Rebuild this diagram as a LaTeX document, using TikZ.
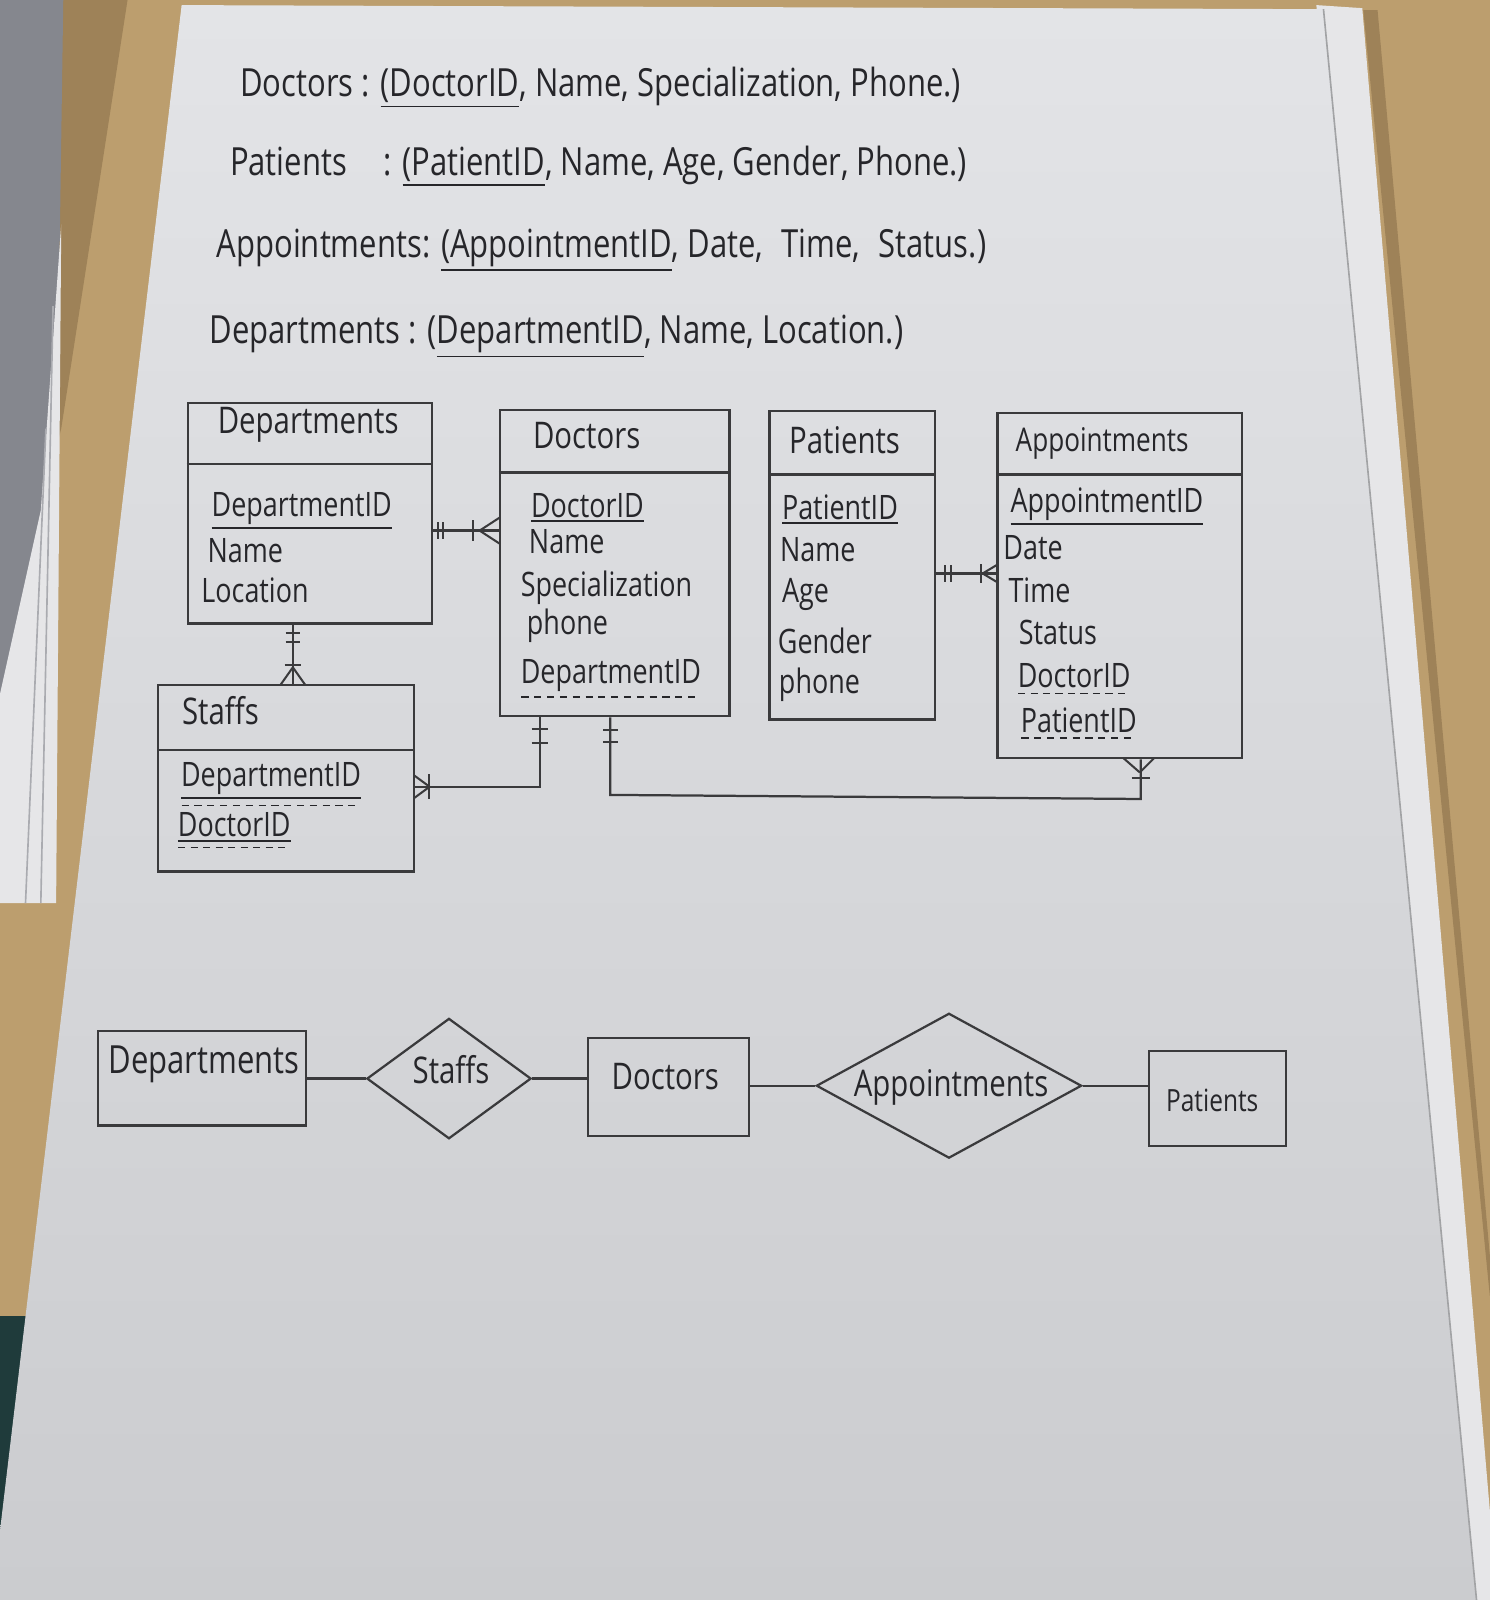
\documentclass[tikz,border=0pt]{standalone}
\usepackage{fontspec}
\newfontfamily\hand{Open Sans}[FakeStretch=0.8]
\usetikzlibrary{shapes.geometric}
\definecolor{inkc}{HTML}{3A3A3C}
\definecolor{txtc}{HTML}{26262A}
\definecolor{woodc}{HTML}{BC9E6E}
\definecolor{shadowc}{HTML}{9E8258}
\definecolor{papertop}{HTML}{E3E4E7}
\definecolor{paperbot}{HTML}{CBCCCF}
\definecolor{stackc}{HTML}{85878E}
\definecolor{sheetc}{HTML}{E6E6E8}
\definecolor{tealc}{HTML}{1F3B3B}
\newsavebox\keybox
\newcommand\dashrow{\hbox to \wd\keybox{\xleaders\hbox{\rule{3.5pt}{0.7pt}\hskip2.5pt}\hfill}}
\newcommand\ukey[1]{\leavevmode\vtop{\hbox{#1}\kern1.2pt\hrule height 0.9pt}}
\newcommand\dkey[1]{\sbox\keybox{#1}\leavevmode\vtop{\copy\keybox\nointerlineskip\kern2.2pt\dashrow}}
\newcommand\bkey[1]{\sbox\keybox{#1}\leavevmode\vtop{\copy\keybox\nointerlineskip\kern1.2pt\hrule height 1pt\nointerlineskip\kern2.6pt\dashrow}}
\begin{document}
\begin{tikzpicture}[x=0.5pt,y=-0.5pt,
  ink/.style={draw=inkc, line width=1.1pt},
  ebox/.style={ink, rectangle, inner sep=0pt},
  txt/.style={text=txtc, inner sep=0pt, anchor=base west},
  top/.style={txt, font=\hand\fontsize{19}{22}\selectfont},
  head/.style={txt, font=\hand\fontsize{18}{21}\selectfont},
  attr/.style={txt, font=\hand\fontsize{16.5}{20}\selectfont},
  big/.style={text=txtc, inner sep=0pt, font=\hand\fontsize{18}{21}\selectfont},
  crow/.style={draw=inkc, line width=1pt}]
\useasboundingbox (0,0) rectangle (1460,1568);
% background: desk, sheets, paper
\fill[woodc] (0,0) rectangle (1460,1568);
\fill[shadowc] (60,0) -- (125,0) -- (60,420) -- (45,480) -- cycle;
\fill[shadowc] (1336,10) -- (1350,10) -- (1460,1230) -- (1460,1270) -- cycle;
\fill[tealc] (0,1290) rectangle (40,1568);
\fill[stackc] (0,0) -- (62,0) -- (55,480) -- (0,700) -- cycle;
\fill[sheetc] (60,220) -- (55,885) -- (0,885) -- (0,680) -- (40,500) -- cycle;
\draw[stackc!70, line width=0.8pt] (52,300) -- (40,885) (45,420) -- (25,885);
\fill[sheetc] (1290,5) -- (1335,8) -- (1460,1480) -- (1460,1568) -- (1445,1568) -- cycle;
\shade[top color=papertop, bottom color=paperbot] (178,5) -- (1297,9) -- (1447,1568) -- (0,1568) -- (0,1500) -- cycle;
\draw[paperbot!80!black, line width=0.8pt] (1297,9) -- (1447,1568);

% ---------- relational schema lines ----------
\node[top] (l1) at (235,95) {Doctors : \ukey{(DoctorID}, Name, Specialization, Phone.)};
\node[top] (l2) at (225,172) {Patients\hspace{14pt} : \ukey{(PatientID}, Name, Age, Gender, Phone.)};
\node[top] (l3) at (212,252) {Appointments: \ukey{(AppointmentID}, Date,\hspace{5pt} Time,\hspace{5pt} Status.)};
\node[top] (l4) at (205,337) {Departments : (\ukey{DepartmentID}, Name, Location.)};

% ---------- entity boxes ----------
\node[ebox, minimum width=119.5pt, minimum height=108pt] (dep) at (303.5,503) {};
\node[ebox, minimum width=112.5pt, minimum height=150pt] (doc) at (602.5,552) {};
\node[ebox, minimum width=81pt, minimum height=151pt] (pat) at (835,554) {};
\node[ebox, minimum width=120pt, minimum height=169pt] (app) at (1097.5,574) {};
\node[ebox, minimum width=125.5pt, minimum height=91.5pt] (stf) at (280.5,762.5) {};
\coordinate (hdep) at (0,455);
\coordinate (hdoc) at (0,463);
\coordinate (hpat) at (0,465);
\coordinate (happ) at (0,465);
\coordinate (hstf) at (0,735);
\draw[ink] (dep.west |- hdep) -- (dep.east |- hdep);
\draw[ink] (doc.west |- hdoc) -- (doc.east |- hdoc);
\draw[ink] (pat.west |- hpat) -- (pat.east |- hpat);
\draw[ink] (app.west |- happ) -- (app.east |- happ);
\draw[ink] (stf.west |- hstf) -- (stf.east |- hstf);

% headers
\node[head] (tdep) at (213,425) {Departments};
\node[head] (tdoc) at (522,440) {Doctors};
\node[head] (tpat) at (773,444) {Patients};
\node[head, font=\hand\fontsize{16}{19}\selectfont] (tapp) at (995,442) {Appointments};
\node[head] (tstf) at (178,710) {Staffs};

% attributes
\node[attr] (d1) at (207,506) {\ukey{DepartmentID}};
\node[attr] (d2) at (203,551) {Name};
\node[attr] (d3) at (197,590) {Location};

\node[attr] (o1) at (520,507) {\ukey{DoctorID}};
\node[attr] (o2) at (518,542) {Name};
\node[attr] (o3) at (510,585) {Specialization};
\node[attr] (o4) at (516,622) {phone};
\node[attr] (o5) at (510,670) {\dkey{DepartmentID}};

\node[attr] (p1) at (766,509) {\ukey{PatientID}};
\node[attr] (p2) at (764,550) {Name};
\node[attr] (p3) at (766,590) {Age};
\node[attr] (p4) at (762,640) {Gender};
\node[attr] (p5) at (763,680) {phone};

\node[attr] (a1) at (990,502) {\ukey{AppointmentID}};
\node[attr] (a2) at (983,548) {Date};
\node[attr] (a3) at (988,590) {Time};
\node[attr] (a4) at (998,632) {Status};
\node[attr] (a5) at (997,674) {\dkey{DoctorID}};
\node[attr] (a6) at (1000,718) {\dkey{PatientID}};

\node[attr] (s1) at (177,771) {\bkey{DepartmentID}};
\node[attr] (s2) at (174,820) {\bkey{DoctorID}};

% ---------- relationships with crow's foot marks ----------
% Departments -- Doctors
\coordinate (r1) at (0,520);
\draw[ink] (dep.east |- r1) -- (doc.west |- r1);
\draw[crow] (429,512) -- (429,528) (434,512) -- (434,528) (464,510) -- (464,530);
\draw[crow] (470,520) -- (490,507) (470,520) -- (490,533);
% Patients -- Appointments
\coordinate (r2) at (0,562);
\draw[ink] (pat.east |- r2) -- (app.west |- r2);
\draw[crow] (926,554) -- (926,570) (932,554) -- (932,570) (961,553) -- (961,571);
\draw[crow] (963,562) -- (978,553) (963,562) -- (978,571);
% Departments -- Staffs
\coordinate (r3) at (287,0);
\draw[ink] (dep.south -| r3) -- (stf.north -| r3);
\draw[crow] (280,620) -- (294,620) (280,629) -- (294,629) (279,652) -- (295,652);
\draw[crow] (287,654) -- (275,671) (287,654) -- (299,671);
% Doctors -- Staffs
\coordinate (r4) at (529,771);
\draw[ink] (doc.south -| r4) -- (r4) -- (stf.east |- r4);
\draw[crow] (521,714) -- (537,714) (521,728) -- (537,728) (420,759) -- (420,783);
\draw[crow] (421,771) -- (406,760) (421,771) -- (406,782);
% Doctors -- Appointments
\coordinate (r5a) at (598,779);
\coordinate (r5b) at (1118,783);
\draw[ink] (doc.south -| r5a) -- (r5a) -- (r5b) -- (app.south -| r5b);
\draw[crow] (591,715) -- (606,715) (591,727) -- (606,727) (1109,762) -- (1127,762);
\draw[crow] (1117,757) -- (1101,743) (1117,757) -- (1131,743);

% ---------- ER (Chen) diagram ----------
\node[ebox, minimum width=102pt, minimum height=46.5pt] (bdep) at (198,1056.5) {};
\node[ink, diamond, inner sep=0pt, minimum width=80.5pt, minimum height=59pt] (bstf) at (440,1057) {};
\node[ebox, minimum width=79pt, minimum height=48pt] (bdoc) at (655,1065) {};
\node[ink, diamond, inner sep=0pt, minimum width=130pt, minimum height=71pt] (bapp) at (930,1064) {};
\node[ebox, minimum width=67pt, minimum height=46.5pt] (bpat) at (1193,1076.5) {};
\node[big, font=\hand\fontsize{19}{22}\selectfont] (tbdep) at (200,1043) {Departments};
\node[big] (tbstf) at (442,1048) {Staffs};
\node[big] (tbdoc) at (652,1055) {Doctors};
\node[big] (tbapp) at (932,1066) {Appointments};
\node[big, font=\hand\fontsize{15}{18}\selectfont] (tbpat) at (1188,1078) {Patients};
\draw[ink] (bdep.east |- bstf.west) -- (bstf.west);
\draw[ink] (bstf.east) -- (bdoc.west |- bstf.east);
\draw[ink] (bdoc.east |- bapp.west) -- (bapp.west);
\draw[ink] (bapp.east) -- (bpat.west |- bapp.east);
\end{tikzpicture}
\end{document}
